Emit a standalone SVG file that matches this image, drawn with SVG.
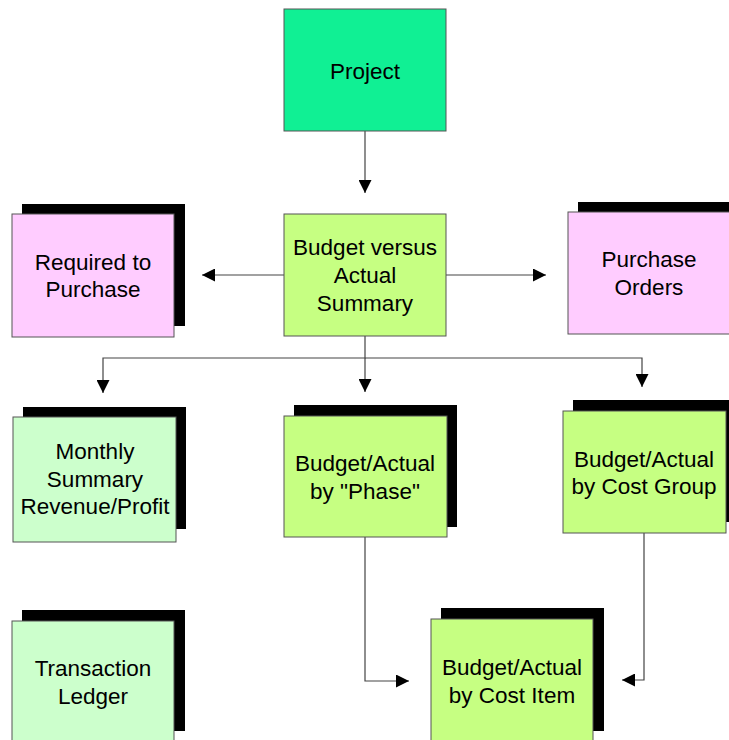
<svg xmlns="http://www.w3.org/2000/svg" width="729" height="740" viewBox="0 0 729 740">
<style>
.box{stroke:#555;stroke-width:1}
.sh{fill:#000}
.t{font-family:"Liberation Sans",Arial,sans-serif;font-size:22.5px;fill:#000;text-anchor:middle}
.c{fill:none;stroke:#444;stroke-width:1.2}
</style>
<defs>
<marker id="ah" viewBox="0 0 10 10" refX="10" refY="5" markerWidth="13" markerHeight="13" markerUnits="userSpaceOnUse" orient="auto">
<path d="M0,0 L10,5 L0,10 Z" fill="#000"/>
</marker>
</defs>
<rect width="729" height="740" fill="#fff"/>
<g id="connectors">
<line class="c" x1="365" y1="131" x2="365" y2="193" marker-end="url(#ah)"/>
<line class="c" x1="284" y1="275" x2="202" y2="275" marker-end="url(#ah)"/>
<line class="c" x1="446" y1="275" x2="546" y2="275" marker-end="url(#ah)"/>
<polyline class="c" points="365,336 365,358 103,358 103,393" marker-end="url(#ah)"/>
<line class="c" x1="365" y1="358" x2="365" y2="392" marker-end="url(#ah)"/>
<polyline class="c" points="365,358 642,358 642,387" marker-end="url(#ah)"/>
<polyline class="c" points="365,537 365,681 409,681" marker-end="url(#ah)"/>
<polyline class="c" points="644,533 644,680 622,680" marker-end="url(#ah)"/>
</g>
<g id="project">
<rect class="box" x="284" y="9" width="162" height="122" fill="#10F094"/>
<text class="t" x="365" y="79">Project</text>
</g>
<g id="summary">
<rect class="box" x="284" y="214" width="162" height="122" fill="#C6FF82"/>
<text class="t" x="365" y="255">Budget versus</text>
<text class="t" x="365" y="283">Actual</text>
<text class="t" x="365" y="311">Summary</text>
</g>
<g id="required">
<rect class="sh" x="22" y="204" width="163" height="122"/>
<rect class="box" x="12" y="214" width="162" height="123" fill="#FFCCFF"/>
<text class="t" x="93" y="270">Required to</text>
<text class="t" x="93" y="297">Purchase</text>
</g>
<g id="orders">
<rect class="sh" x="578" y="202" width="163" height="122"/>
<rect class="box" x="568" y="212" width="163" height="122" fill="#FFCCFF"/>
<text class="t" x="649" y="267">Purchase</text>
<text class="t" x="649" y="295">Orders</text>
</g>
<g id="monthly">
<rect class="sh" x="23" y="407" width="163" height="122"/>
<rect class="box" x="13" y="417" width="163" height="125" fill="#CCFFCC"/>
<text class="t" x="95" y="459">Monthly</text>
<text class="t" x="95" y="487">Summary</text>
<text class="t" x="95" y="514">Revenue/Profit</text>
</g>
<g id="phase">
<rect class="sh" x="294" y="405" width="163" height="122"/>
<rect class="box" x="284" y="416" width="163" height="121" fill="#C6FF82"/>
<text class="t" x="365" y="471">Budget/Actual</text>
<text class="t" x="365" y="499">by "Phase"</text>
</g>
<g id="costgroup">
<rect class="sh" x="573" y="400" width="163" height="122"/>
<rect class="box" x="563" y="411" width="163" height="122" fill="#C6FF82"/>
<text class="t" x="644" y="467">Budget/Actual</text>
<text class="t" x="644" y="494">by Cost Group</text>
</g>
<g id="ledger">
<rect class="sh" x="22" y="610" width="163" height="121"/>
<rect class="box" x="12" y="621" width="162" height="125" fill="#CCFFCC"/>
<text class="t" x="93" y="676">Transaction</text>
<text class="t" x="93" y="704">Ledger</text>
</g>
<g id="costitem">
<rect class="sh" x="441" y="608" width="163" height="123"/>
<rect class="box" x="431" y="619" width="162" height="127" fill="#C6FF82"/>
<text class="t" x="512" y="675">Budget/Actual</text>
<text class="t" x="512" y="703">by Cost Item</text>
</g>
</svg>
